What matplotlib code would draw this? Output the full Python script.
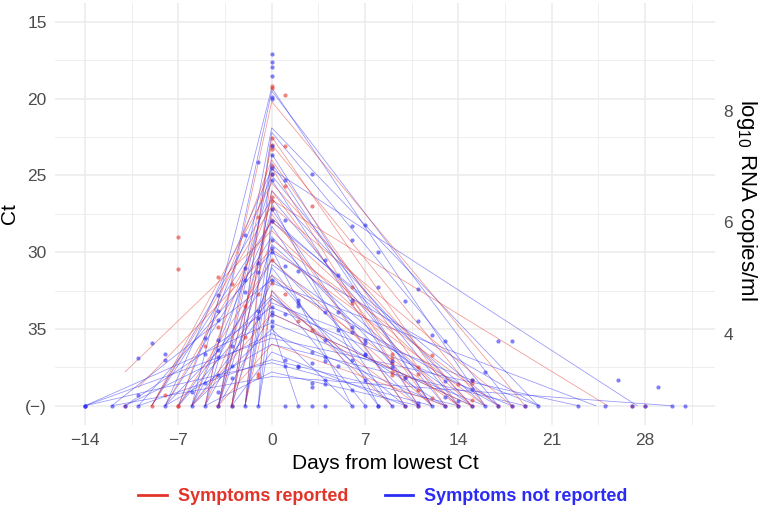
import matplotlib
matplotlib.use("Agg")
import matplotlib.pyplot as plt
from matplotlib.lines import Line2D

plt.rcParams['font.family'] = ['Liberation Sans', 'DejaVu Sans']
plt.rcParams['mathtext.default'] = 'regular'

RED = '#e3342a'
BLUE = '#2b2bf5'

# ---------------- individual trajectories (start -> peak at day 0 -> end)
line_group = ['b'] * 43 + ['r'] * 20
line_start_day = [-6, -5, -4, -3, -8, -2, -7, -5, -3, -9, -4, -6, -2, -8, -4, -10, -6, -3, -12, -5,
                  -1, -7, -11, -4, -14, -14, -14, -6, -8, -3, -10, -5, -12, -2, -1, -9, -7, -11, -6, -4,
                  -2, -8, -1,
                  -5, -3, -4, -7, -2, -9, -6, -3, -11, -10, -4, -8, -5, -7, -3, -2, -1, -9, -6, -4]
line_start_ct = [40, 40, 40, 40, 40, 40, 40, 40, 40, 40, 40, 40, 40, 40, 40, 40, 40, 40, 40, 40,
                 40, 40, 40, 40, 40, 40, 40, 40, 40, 40, 40, 40, 40, 40, 40, 40, 40, 40, 40, 40,
                 40, 40, 40,
                 40, 40, 40, 40, 40, 40, 40, 40, 37.8, 38.8, 40, 40, 40, 40, 40, 40, 38.0, 40, 40, 40]
line_peak_ct = [19.3, 19.5, 21.9, 22.2, 24.6, 23.6, 25.0, 25.3, 26.0, 26.5, 27.2, 27.8, 28.3, 29.0, 29.5,
                30.0, 30.5, 31.0, 31.8, 32.0, 32.5, 33.0, 33.6, 34.0, 34.6, 35.6, 37.2, 35.0, 36.0, 36.5,
                37.0, 37.8, 38.1, 29.8, 26.8, 28.0, 31.5, 35.3, 33.3, 24.2, 30.8, 32.8, 34.8,
                20.2, 22.5, 23.0, 24.0, 24.5, 25.5, 26.6, 26.0, 28.6, 29.8, 27.5, 28.0, 29.2, 30.5,
                31.5, 32.5, 33.0, 27.0, 34.0, 36.0]
line_end_day = [16, 18, 20, 17, 27.4, 12, 14, 11, 15, 13, 10, 16, 9, 12, 14, 20, 11, 8, 17, 24.3,
                7, 13, 18, 15, 16, 23, 12, 6, 19, 10, 14, 11, 30, 6, 8, 17, 9, 13, 20, 12,
                15, 10, 2,
                19, 14, 16, 13, 11, 15, 25.2, 12, 14, 16, 10, 15, 17, 12, 14, 9, 11, 18, 15, 13]
line_end_ct = [40] * 63

# ---------------- observations
pt_day = [
    # bottom row (negative results)
    -14, -14, -14, -12, -11, -11, -10, -9, -8, -7, -7, -6, -5, -4, -4, -3, -3, -2, -1,
    1, 2, 3, 4, 6, 7, 8, 8, 9, 10, 10, 11, 11, 12, 13, 13, 14, 14, 15, 15, 16,
    17, 17, 18, 18, 19, 19, 20, 23, 25, 27, 27, 28, 28, 30, 31,
    # day 0
    0, 0, 0, 0, 0, 0, 0, 0, 0, 0, 0, 0, 0, 0, 0, 0, 0, 0, 0, 0, 0, 0, 0, 0, 0, 0, 0, 0, 0, 0, 0, 0, 0, 0, 0,
    # day 1
    1, 1, 1, 1, 1, 1, 1, 1, 1, 1,
    # day -1
    -1, -1, -1, -1, -1, -1, -1, -1, -1,
    # day -2
    -2, -2, -2, -2, -2, -2,
    # day -3
    -3, -3, -3, -3,
    # day -4
    -4, -4, -4, -4, -4, -4, -4, -4, -4, -4,
    # day -5 .. -10
    -5, -5, -5, -5, -6, -7, -7, -8, -8, -8, -9, -10, -10,
    # day 2
    2, 2, 2, 2, 2, 2, 2,
    # day 3
    3, 3, 3, 3, 3, 3, 3,
    # day 4
    4, 4, 4, 4, 4, 4, 4,
    # day 5
    5, 5, 5, 5,
    # day 6
    6, 6, 6, 6, 6, 6, 6, 6, 6,
    # day 7
    7, 7, 7, 7, 7, 7,
    # day 8
    8, 8,
    # day 9
    9, 9, 9, 9, 9, 9, 9,
    # day 10
    10, 10, 10,
    # day 11
    11, 11, 11, 11, 11, 11,
    # day 12
    12, 12, 12,
    # day 13
    13, 13, 13,
    # day 14
    14, 14,
    # day 15
    15, 15, 15, 15, 15,
    # late
    16, 17, 18, 26, 29,
]
pt_ct = [
    40, 40, 40, 40, 40, 40, 40, 40, 40, 40, 40, 40, 40, 40, 40, 40, 40, 40, 40,
    40, 40, 40, 40, 40, 40, 40, 40, 40, 40, 40, 40, 40, 40, 40, 40, 40, 40, 40, 40, 40,
    40, 40, 40, 40, 40, 40, 40, 40, 40, 40, 40, 40, 40, 40, 40,
    17.1, 17.6, 17.95, 18.5, 19.2, 19.3, 19.9, 20.0, 22.6, 23.0, 23.1, 23.3, 23.7, 24.4, 24.5, 24.9, 24.9,
    25.3, 26.4, 26.7, 27.2, 27.2, 28.0, 28.0, 29.2, 29.7, 30.0, 30.5, 31.8, 32.0, 33.6, 33.9, 34.1, 34.5, 34.8,
    19.8, 23.1, 25.3, 25.7, 27.9, 30.9, 32.7, 34.0, 37.0, 37.4,
    24.1, 27.7, 30.7, 31.3, 32.7, 33.8, 34.3, 37.9, 38.1,
    28.9, 31.0, 31.8, 32.6, 33.5, 35.5,
    32.1, 36.1, 37.4, 38.2,
    31.6, 32.8, 33.8, 34.4, 34.9, 35.7, 36.4, 36.8, 38.0, 39.1,
    35.6, 36.1, 36.6, 38.5, 39.1, 29.0, 31.1, 36.6, 37.0, 39.3, 35.9, 36.9, 39.3,
    31.2, 33.1, 33.3, 33.5, 34.5, 37.4, 37.5,
    24.9, 27.0, 35.1, 36.5, 37.2, 38.5, 38.8,
    30.5, 33.9, 35.7, 36.8, 37.1, 38.3, 38.6,
    31.5, 33.9, 35.1, 37.4,
    28.3, 29.2, 32.3, 33.1, 33.3, 34.9, 35.2, 37.0, 39.0,
    28.2, 35.7, 35.9, 36.6, 36.7, 38.3,
    30.0, 32.3,
    36.6, 36.9, 37.1, 37.2, 37.5, 37.8, 38.0,
    33.2, 38.1, 38.2,
    32.4, 34.5, 37.5, 37.9, 39.0, 39.8,
    35.4, 36.7, 39.5,
    35.8, 38.4, 39.4,
    38.6, 39.7,
    38.3, 38.3, 38.5, 38.9, 39.6,
    37.8, 35.8, 35.8, 38.3, 38.8,
]
pt_group = (
    ['b', 'b', 'b', 'b', 'b', 'r', 'b', 'r', 'b', 'r', 'r', 'b', 'b', 'b', 'r', 'b', 'r', 'b', 'b',
     'b', 'b', 'b', 'b', 'b', 'b', 'b', 'b', 'b', 'b', 'r', 'b', 'r', 'b', 'b', 'r', 'b', 'r', 'b', 'r', 'b',
     'b', 'r', 'b', 'r', 'b', 'r', 'b', 'b', 'b', 'b', 'r', 'b', 'r', 'b', 'b']
    + ['b', 'b', 'b', 'b', 'r', 'r', 'b', 'b', 'r', 'r', 'b', 'r', 'b', 'r', 'b', 'b', 'r',
       'b', 'r', 'r', 'r', 'b', 'r', 'b', 'b', 'b', 'b', 'r', 'b', 'r', 'b', 'b', 'b', 'b', 'b']
    + ['r', 'r', 'b', 'r', 'b', 'b', 'r', 'b', 'b', 'b']
    + ['b', 'r', 'b', 'b', 'r', 'b', 'b', 'r', 'r']
    + ['b', 'b', 'b', 'b', 'r', 'r']
    + ['r', 'b', 'b', 'b']
    + ['r', 'b', 'b', 'b', 'r', 'b', 'b', 'b', 'b', 'b']
    + ['b', 'r', 'b', 'b', 'b', 'r', 'r', 'b', 'b', 'r', 'b', 'b', 'b']
    + ['b', 'b', 'b', 'b', 'r', 'b', 'b']
    + ['b', 'r', 'r', 'b', 'b', 'b', 'b']
    + ['b', 'b', 'b', 'b', 'b', 'b', 'b']
    + ['b', 'b', 'b', 'b']
    + ['b', 'b', 'r', 'b', 'r', 'b', 'b', 'b', 'b']
    + ['b', 'b', 'b', 'b', 'b', 'b']
    + ['b', 'b']
    + ['r', 'r', 'b', 'r', 'b', 'r', 'r']
    + ['b', 'r', 'b']
    + ['b', 'b', 'r', 'r', 'r', 'b']
    + ['b', 'r', 'r']
    + ['b', 'b', 'b']
    + ['r', 'b']
    + ['r', 'b', 'r', 'b', 'r']
    + ['b', 'b', 'b', 'b', 'b']
)

x_ticks = [-14, -7, 0, 7, 14, 21, 28]
x_minor = [-10.5, -3.5, 3.5, 10.5, 17.5, 24.5, 31.5]
y_ticks = [15, 20, 25, 30, 35, 40]
y_tick_labels = ['15', '20', '25', '30', '35', '(\u2212)']
y_minor = [17.5, 22.5, 27.5, 32.5, 37.5]
log_ticks = [4, 6, 8]
PEAK_DAY = 0

colors = {'r': RED, 'b': BLUE}

fig = plt.figure(figsize=(7.6, 5.12), dpi=100)
ax = fig.add_axes([0.0724, 0.170, 0.8686, 0.825])

for g, xs, ys, pk, xe, ye in zip(line_group, line_start_day, line_start_ct, line_peak_ct,
                                  line_end_day, line_end_ct):
    ax.plot([xs, PEAK_DAY, xe], [ys, pk, ye], color=colors[g], lw=0.55, alpha=0.5,
            solid_joinstyle='miter', zorder=2)

for g in ['r', 'b']:
    xs = [d for d, gg in zip(pt_day, pt_group) if gg == g]
    ys = [c for c, gg in zip(pt_ct, pt_group) if gg == g]
    ax.scatter(xs, ys, s=9, color=colors[g], alpha=0.6, linewidths=0, zorder=3)

ax.set_xlim(-16.25, 33.25)
ax.set_ylim(41.25, 13.75)
ax.set_xticks(x_ticks)
ax.set_xticks(x_minor, minor=True)
ax.set_yticks(y_ticks)
ax.set_yticklabels(y_tick_labels)
ax.set_yticks(y_minor, minor=True)
ax.grid(True, which='major', color='#ebebeb', lw=1.1, zorder=0)
ax.grid(True, which='minor', color='#ebebeb', lw=0.6, zorder=0)
ax.set_axisbelow(True)
for s in ax.spines.values():
    s.set_visible(False)
ax.tick_params(which='both', length=0)
ax.tick_params(axis='both', labelsize=12.5, labelcolor='#4d4d4d', pad=6)
ax.set_xticklabels([str(t).replace('-', '\u2212') for t in x_ticks])

ax.set_xlabel('Days from lowest Ct', fontsize=15, labelpad=4)
ax.set_ylabel('Ct', fontsize=15, labelpad=4)


def ct_to_log(ct):
    return (49.9 - ct) / 3.64


def log_to_ct(lg):
    return 49.9 - 3.64 * lg


sec = ax.secondary_yaxis('right', functions=(ct_to_log, log_to_ct))
sec.set_yticks(log_ticks)
sec.tick_params(length=0, labelsize=12.5, labelcolor='#4d4d4d', pad=6)
for s in sec.spines.values():
    s.set_visible(False)
fig.text(746 / 760, 1 - 200 / 512, 'log$_{10}$ RNA copies/ml', fontsize=16, rotation=270,
         ha='center', va='center')

handles = [Line2D([0], [0], color=RED, lw=2), Line2D([0], [0], color=BLUE, lw=2)]
leg = fig.legend(handles, ['Symptoms reported', 'Symptoms not reported'], loc='center',
                 bbox_to_anchor=(0.504, 0.03), ncol=2, frameon=False,
                 prop={'weight': 'bold', 'size': 13}, handlelength=1.6, columnspacing=2.0,
                 handletextpad=0.6)
for t, c in zip(leg.get_texts(), [RED, BLUE]):
    t.set_color(c)

fig.savefig('out.png', dpi=100)
